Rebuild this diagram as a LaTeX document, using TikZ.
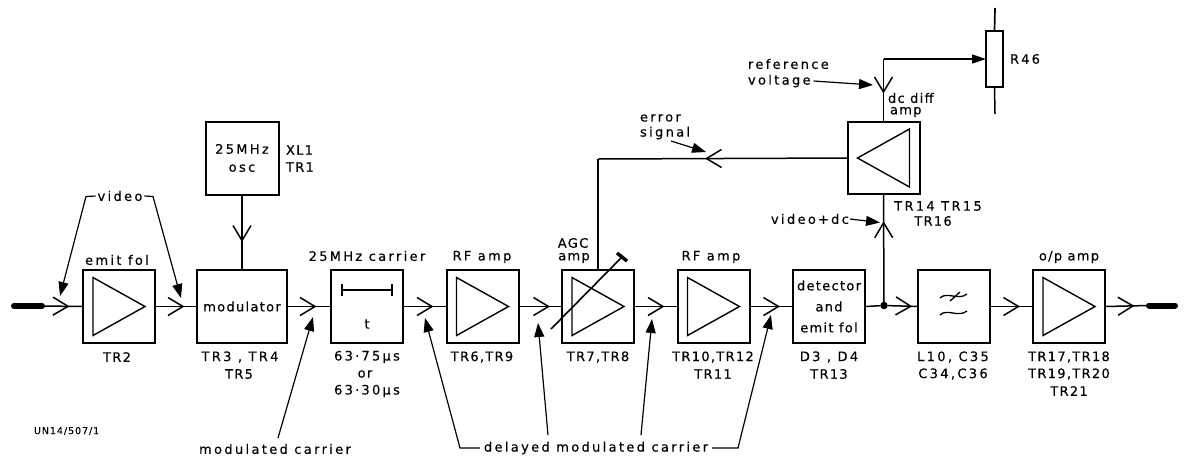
\documentclass[tikz,border=0pt]{standalone}
\usepackage{fontspec}
\setmainfont[LetterSpace=10,FakeBold=0.3]{DejaVu Sans}
\newfontfamily\widefont[LetterSpace=18,FakeBold=0.3]{DejaVu Sans}
\usetikzlibrary{arrows.meta,decorations.markings,calc}
\tikzset{
  x=1pt,y=-1pt,
  every node/.style={font=\fontsize{13}{15}\selectfont,text=black,inner sep=0pt,outer sep=0pt},
  box/.style={draw,line width=2pt,minimum width=72pt,minimum height=73pt,align=center},
  wire/.style={line width=1.5pt},
  chev/.style={postaction={decorate,decoration={markings,mark=at position #1 with {\draw[line width=1.5pt,line join=miter] (-15pt,9pt)--(0pt,0pt)--(-15pt,-9pt);}}}},
  tri/.style={line width=1.4pt,line join=miter},
  note/.style={line width=1.2pt,-{Triangle[length=14pt,width=10pt]}},
  plug/.style={line width=6pt,line cap=round},
  lbl/.style={align=center,anchor=center},
  wlbl/.style={align=center,anchor=center,font=\fontsize{13}{15}\widefont},
  lleft/.style={align=left,anchor=west},
  wleft/.style={align=left,anchor=west,font=\fontsize{13}{15}\widefont},
  dotj/.style={circle,fill=black,minimum size=7.5pt,inner sep=0pt},
}
\newcommand{\amptri}[1]{\draw[tri] ([xshift=10pt,yshift=29pt]#1.west) -- ([xshift=10pt,yshift=-29pt]#1.west) -- ([xshift=-10pt]#1.east) -- cycle;}
\begin{document}
\begin{tikzpicture}
\useasboundingbox (0,0) rectangle (1184,456);
% boxes
\node[box] (emit) at (119,306.5) {};
\node[box,minimum width=90pt] (mod) at (242,306.5) {modulator};
\node[box,minimum width=73pt,font=\fontsize{13}{15}\widefont] (osc) at (242,158) {25\,MHz\\[3pt]osc};
\node[box] (delay) at (367,306.5) {};
\node[box] (rf1) at (482.5,306.5) {};
\node[box] (agc) at (598,306.5) {};
\node[box] (rf2) at (713.5,306.5) {};
\node[box,align=center] (det) at (829,306.5) {detector\\[6pt]and\\[6pt]emit fol};
\node[box] (filt) at (953.5,306.5) {};
\node[box] (op) at (1069,306.5) {};
\node[box,minimum height=72pt] (diff) at (883.5,158) {};
\node[draw,line width=2pt,minimum width=17pt,minimum height=56pt] (r46) at (994.5,59) {};
% triangles
\amptri{emit}\amptri{rf1}\amptri{agc}\amptri{rf2}\amptri{op}
\draw[tri] ([xshift=-10pt,yshift=29pt]diff.east) -- ([xshift=-10pt,yshift=-29pt]diff.east) -- ([xshift=10pt]diff.west) -- cycle;
% delay symbol
\coordinate (dl) at (342,290); \coordinate (dr) at (392,290);
\draw[line width=1.5pt] (dl) -- (dr);
\draw[line width=1.5pt] ($(dl)+(0,-6)$) -- ($(dl)+(0,6)$) ($(dr)+(0,-6)$) -- ($(dr)+(0,6)$);
\node[lbl] (tlab) at (367,324) {t};
% filter symbol
\draw[line width=1.3pt] (940,298) .. controls (947,291) and (958,301) .. (967,294);
\draw[line width=1.3pt] (950,301) -- (960,292);
\draw[line width=1.3pt] (940,315) .. controls (947,308) and (958,318) .. (967,311);
% main path
\coordinate (inplug) at (42,306); \coordinate (inend) at (14,306);
\coordinate (outplug) at (1149,305.5); \coordinate (outend) at (1175,305.5);
\draw[plug] (inend) -- (inplug);
\draw[plug] (outplug) -- (outend);
\draw[wire,chev=26pt] (inplug) -- (emit.west);
\draw[wire,chev=28pt] (emit.east) -- (mod.west);
\draw[wire,chev=28pt] (mod.east) -- (delay.west);
\draw[wire,chev=29pt] (delay.east) -- (rf1.west);
\draw[wire,chev=30pt] (rf1.east) -- (agc.west);
\draw[wire,chev=29pt] (agc.east) -- (rf2.west);
\draw[wire,chev=29pt] (rf2.east) -- (det.west);
\node[dotj] (j) at (884,305.5) {};
\draw[wire] (det.east) -- (j);
\draw[wire,chev=23pt] (j) -- (filt.west);
\draw[wire,chev=29pt] (filt.east) -- (op.west);
\draw[wire,chev=28pt] (op.east) -- (outplug);
\draw[wire,chev=46pt] (osc.south) -- (mod.north);
\draw[wire,chev=79pt] (j) -- (diff.south);
\coordinate (ctop) at (883.5,59);
\draw[wire,chev=33pt] (ctop) -- (diff.north);
\draw[wire,-{Triangle[length=14pt,width=9pt]}] (ctop) -- (r46.west);
\coordinate (ebend) at (598,159);
\draw[wire,chev=141pt] (diff.west) -- (ebend);
\draw[wire] (ebend) -- (agc.north);
% R46 leads
\coordinate (rt) at (995,8); \coordinate (rb) at (995,114);
\draw[line width=1.7pt] (r46.north) -- (rt);
\draw[line width=1.5pt] (r46.south) -- (rb);
% variable gain arrow
\coordinate (va) at (551,329); \coordinate (vb) at (622,257);
\draw[line width=1.6pt] (va) -- (vb);
\draw[line width=3.5pt] (617,253) -- (627,261);
% annotation labels
\node[wlbl] (video) at (120,196) {video};
\node[wlbl] (mc) at (275,449) {modulated carrier};
\node[wlbl] (dmc) at (596,448) {delayed modulated carrier};
\node[wleft] (ref) at (748,64) {reference};
\node[wleft] (volt) at (748,81) {voltage};
\node[wleft] (err) at (640,118) {error};
\node[wleft] (sig) at (640,133) {signal};
\node[wleft] (vdc) at (771,219) {video\,+\,dc};
% annotation tips
\coordinate (v1) at (60,296); \coordinate (v2) at (181,298);
\coordinate (m1) at (313,317);
\coordinate (d1) at (425,318); \coordinate (d2) at (538,323);
\coordinate (d3) at (652,319); \coordinate (d4) at (771,315);
\coordinate (rv) at (873,85); \coordinate (es) at (706,152); \coordinate (vd) at (880,222.5);
\draw[note] ([xshift=-2pt]video.west) -- (86,196.5) -- (v1);
\draw[note] ([xshift=2pt]video.east) -- (153,196.5) -- (v2);
\draw[note] (278,438) -- (m1);
\draw[note] ([xshift=-4pt]dmc.west) -- (460,448) -- (d1);
\draw[note] (548,435) -- (d2);
\draw[note] (641,435) -- (d3);
\draw[note] ([xshift=4pt]dmc.east) -- (738,448) -- (d4);
\draw[note] ([xshift=3pt]volt.east) -- (rv);
\draw[note] (671,141) -- (es);
\draw[note] ([xshift=1pt]vdc.east) -- (vd);
% text labels
\node[wlbl] (l1) at (117,260) {emit fol};
\node[lbl] (l2) at (117,357) {TR2};
\node[lleft] (l3) at (286,150) {XL1};
\node[lleft] (l4) at (286,167) {TR1};
\node[wlbl] (l5) at (240,357) {TR3 , TR4};
\node[lbl] (l6) at (239,374) {TR5};
\node[wlbl] (l7) at (367,256) {25\,MHz carrier};
\node[wlbl] (l8) at (367,357) {63\,·\,75\,µs};
\node[lbl] (l9) at (365,374) {or};
\node[wlbl] (l10) at (367,391) {63\,·\,30\,µs};
\node[wlbl] (l11) at (482,257) {R\,F amp};
\node[lbl] (l12) at (482,357) {TR6,TR9};
\node[lbl] (l13) at (573,243) {AGC};
\node[lbl] (l14) at (574,258) {amp};
\node[lbl] (l15) at (598,357) {TR7,TR8};
\node[wlbl] (l16) at (711,257) {R\,F amp};
\node[lbl] (l17) at (713,357) {TR10,TR12};
\node[lbl] (l18) at (713,374) {TR11};
\node[wlbl] (l19) at (829,357) {D3 , D4};
\node[lbl] (l20) at (829,374) {TR13};
\node[wlbl] (l21) at (953,357) {L10, C35};
\node[wlbl] (l22) at (953,374) {C34,C36};
\node[lbl] (l23) at (1069,257) {o/p amp};
\node[lbl] (l24) at (1069,357) {TR17,TR18};
\node[lbl] (l25) at (1069,374) {TR19,TR20};
\node[lbl] (l26) at (1069,391) {TR21};
\node[wlbl] (l27) at (938,206) {TR14 TR15};
\node[lbl] (l28) at (933,221) {TR16};
\node[lleft] (l29) at (888,98) {dc diff};
\node[lleft] (l30) at (890,112) {amp};
\node[wleft] (l31) at (1010,59) {R\,4\,6};
\node[lleft,font=\fontsize{9.5}{11}\selectfont] (l32) at (34,431) {UN14/507/1};
\end{tikzpicture}
\end{document}
